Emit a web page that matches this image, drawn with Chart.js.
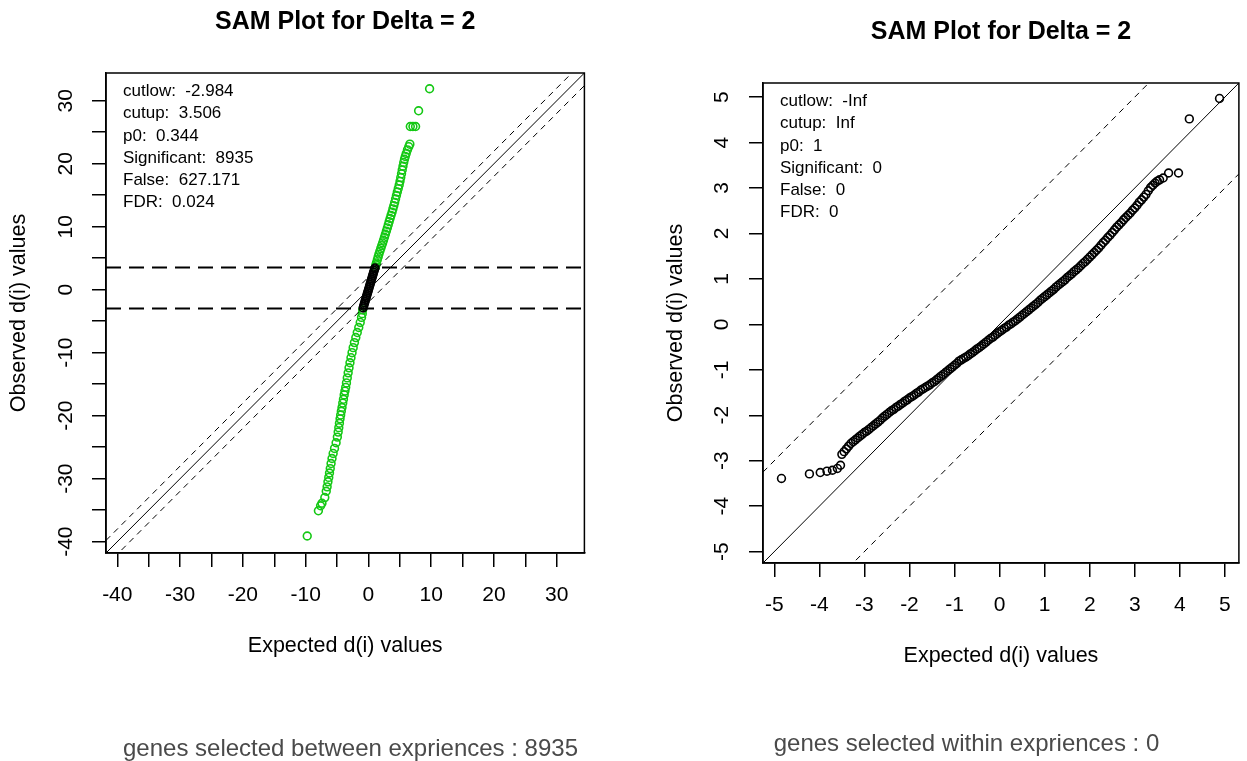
<!DOCTYPE html>
<html>
<head>
<meta charset="utf-8">
<script src="https://cdn.jsdelivr.net/npm/chart.js@4.4.1/dist/chart.umd.min.js"></script>
<style>
  html, body { margin: 0; padding: 0; background: #fff; width: 1247px; height: 761px; overflow: hidden; position: relative; }
  canvas { position: absolute; }
  #samBetween { left: 0; top: 0; }
  #samWithin { left: 657px; top: 10px; }
  .caption { position: absolute; font-family: "Liberation Sans", Arial, sans-serif; font-size: 24px; line-height: 24px; color: #4a4a4a; text-align: center; white-space: pre; }
</style>
</head>
<body>
<canvas id="samBetween" width="590" height="751"></canvas>
<canvas id="samWithin" width="590" height="751"></canvas>
<div class="caption" id="capBetween" style="left:50px; top:736px; width:601px;"></div>
<div class="caption" id="capWithin" style="left:700px; top:731px; width:533px;"></div>
<script>
// ---------- between experiences: expected vs observed d(i) ----------
// significant genes below cutlow (green)
const betweenLowExpected = [-9.75, -7.97, -7.62, -7.40, -6.95, -6.72, -6.58, -6.45, -6.32, -6.20, -6.08, -5.95, -5.80, -5.62, -5.40, -5.15, -4.95, -4.82, -4.72, -4.62, -4.52, -4.42, -4.32, -4.21, -4.09, -3.98, -3.86, -3.74, -3.62, -3.50, -3.37, -3.23, -3.09, -2.94, -2.78, -2.61, -2.43, -2.23, -2.01, -1.78, -1.54, -1.31, -1.10, -0.98, -0.92];
const betweenLowObserved = [-39.1, -35.1, -34.3, -33.9, -33.0, -32.0, -31.3, -30.5, -29.8, -29.1, -28.4, -27.6, -26.8, -26.0, -25.2, -24.3, -23.4, -22.6, -21.9, -21.2, -20.5, -19.9, -19.3, -18.7, -18.0, -17.4, -16.7, -16.1, -15.5, -14.8, -14.0, -13.2, -12.4, -11.6, -10.8, -10.0, -9.2, -8.4, -7.6, -6.8, -6.0, -5.2, -4.4, -3.8, -3.2];
// genes between the cuts (black)
const betweenMidExpected = [-0.85, -0.77, -0.69, -0.61, -0.53, -0.45, -0.37, -0.29, -0.21, -0.13, -0.05, 0.03, 0.11, 0.19, 0.27, 0.35, 0.43, 0.51, 0.59, 0.67, 0.75, 0.83, 0.91, 0.99, 1.05];
const betweenMidObserved = [-2.90, -2.63, -2.36, -2.09, -1.82, -1.55, -1.28, -1.01, -0.74, -0.47, -0.20, 0.07, 0.34, 0.61, 0.88, 1.15, 1.42, 1.69, 1.96, 2.23, 2.50, 2.77, 3.04, 3.30, 3.45];
// significant genes above cutup (green)
const betweenUpExpected = [1.12, 1.20, 1.28, 1.42, 1.55, 1.68, 1.82, 1.97, 2.12, 2.26, 2.40, 2.55, 2.70, 2.86, 3.01, 3.16, 3.30, 3.45, 3.60, 3.76, 3.90, 4.04, 4.18, 4.32, 4.46, 4.60, 4.75, 4.90, 5.03, 5.15, 5.27, 5.38, 5.50, 5.62, 5.74, 5.87, 6.02, 6.22, 6.42, 6.60, 6.67, 7.09, 7.51, 7.99, 9.74];
const betweenUpObserved = [3.62, 3.95, 4.25, 4.75, 5.20, 5.65, 6.10, 6.55, 7.00, 7.42, 7.85, 8.32, 8.80, 9.30, 9.80, 10.30, 10.80, 11.30, 11.80, 12.30, 12.82, 13.33, 13.85, 14.40, 14.95, 15.50, 16.05, 16.62, 17.20, 17.80, 18.40, 19.00, 19.60, 20.20, 20.70, 21.15, 21.62, 22.20, 22.70, 23.10, 25.90, 25.90, 25.90, 28.40, 31.90];
const betweenCuts = [-2.984, 3.506];
const betweenStats = ['cutlow:  -2.984', 'cutup:  3.506', 'p0:  0.344', 'Significant:  8935', 'False:  627.171', 'FDR:  0.024'];
const betweenTicks = [-40, -35, -30, -25, -20, -15, -10, -5, 0, 5, 10, 15, 20, 25, 30];
const betweenTickLabels = [-40, -30, -20, -10, 0, 10, 20, 30];
const betweenRange = [-41.8, 34.4];
const betweenCaption = 'genes selected between expriences : 8935';

// ---------- within experiences ----------
const withinExpected = [-4.84, -4.22, -3.98, -3.83, -3.71, -3.60, -3.53,
  -3.50, -3.45, -3.40, -3.35, -3.30, -3.25, -3.20, -3.15, -3.10, -3.05, -3.00, -2.95, -2.90, -2.85, -2.80, -2.75, -2.70, -2.65, -2.60, -2.55, -2.50, -2.45, -2.40, -2.35, -2.30, -2.25, -2.20, -2.15, -2.10, -2.05, -2.00, -1.95, -1.90, -1.85, -1.80, -1.75, -1.70, -1.65, -1.60, -1.55, -1.50, -1.45, -1.40, -1.35, -1.30, -1.25, -1.20, -1.15, -1.10, -1.05, -1.00, -0.95, -0.90, -0.85, -0.80, -0.75, -0.70, -0.65, -0.60, -0.55, -0.50, -0.45, -0.40, -0.35, -0.30, -0.25, -0.20, -0.15, -0.10, -0.05,
  0.00, 0.05, 0.10, 0.15, 0.20, 0.25, 0.30, 0.35, 0.40, 0.45, 0.50, 0.55, 0.60, 0.65, 0.70, 0.75, 0.80, 0.85, 0.90, 0.95, 1.00, 1.05, 1.10, 1.15, 1.20, 1.25, 1.30, 1.35, 1.40, 1.45, 1.50, 1.55, 1.60, 1.65, 1.70, 1.75, 1.80, 1.85, 1.90, 1.95, 2.00, 2.05, 2.10, 2.15, 2.20, 2.25, 2.30, 2.35, 2.40, 2.45, 2.50, 2.55, 2.60, 2.65, 2.70, 2.75, 2.80, 2.85, 2.90, 2.95, 3.00, 3.05, 3.10, 3.15, 3.20, 3.25, 3.30, 3.35, 3.40, 3.45, 3.50, 3.55,
  3.63, 3.75, 3.97, 4.21, 4.88];
const withinObserved = [-3.39, -3.29, -3.26, -3.23, -3.21, -3.17, -3.10,
  -2.86, -2.80, -2.74, -2.68, -2.62, -2.58, -2.54, -2.50, -2.46, -2.42, -2.38, -2.35, -2.31, -2.27, -2.23, -2.19, -2.15, -2.11, -2.06, -2.02, -1.98, -1.94, -1.90, -1.87, -1.83, -1.80, -1.76, -1.73, -1.69, -1.66, -1.62, -1.59, -1.56, -1.52, -1.49, -1.45, -1.42, -1.39, -1.36, -1.33, -1.29, -1.26, -1.22, -1.18, -1.14, -1.10, -1.06, -1.02, -0.98, -0.94, -0.90, -0.86, -0.81, -0.78, -0.75, -0.72, -0.69, -0.65, -0.62, -0.58, -0.54, -0.51, -0.47, -0.43, -0.39, -0.35, -0.31, -0.28, -0.24, -0.20,
  -0.16, -0.13, -0.09, -0.06, -0.02, 0.01, 0.05, 0.08, 0.12, 0.16, 0.20, 0.24, 0.28, 0.32, 0.36, 0.40, 0.44, 0.48, 0.53, 0.57, 0.61, 0.65, 0.69, 0.73, 0.77, 0.82, 0.86, 0.90, 0.94, 0.98, 1.03, 1.07, 1.11, 1.16, 1.20, 1.24, 1.29, 1.34, 1.38, 1.43, 1.48, 1.53, 1.58, 1.63, 1.68, 1.74, 1.80, 1.85, 1.91, 1.96, 2.02, 2.08, 2.14, 2.19, 2.24, 2.30, 2.35, 2.40, 2.45, 2.51, 2.56, 2.62, 2.69, 2.74, 2.80, 2.86, 2.94, 3.01, 3.06, 3.11, 3.15, 3.18,
  3.22, 3.33, 3.33, 4.52, 4.97];
const withinCuts = [-Infinity, Infinity];
const withinStats = ['cutlow:  -Inf', 'cutup:  Inf', 'p0:  1', 'Significant:  0', 'False:  0', 'FDR:  0'];
const withinTicks = [-5, -4, -3, -2, -1, 0, 1, 2, 3, 4, 5];
const withinTickLabels = [-5, -4, -3, -2, -1, 0, 1, 2, 3, 4, 5];
const withinRange = [-5.25, 5.31];
const withinCaption = 'genes selected within expriences : 0';

const delta = 2;
const plotTitle = 'SAM Plot for Delta = 2';
const xTitle = 'Expected d(i) values';
const yTitle = 'Observed d(i) values';

const FONT = '"Liberation Sans", Arial, Helvetica, sans-serif';
const GREEN = '#14c814';

const pairs = (xs, ys) => xs.map((x, i) => ({ x: x, y: ys[i] }));

// frame around the plotting region
const frameBox = {
  id: 'frameBox',
  afterDatasetsDraw(chart) {
    const a = chart.chartArea, ctx = chart.ctx;
    ctx.save();
    ctx.strokeStyle = '#000';
    ctx.lineWidth = 1.5;
    ctx.strokeRect(a.left, a.top, a.right - a.left, a.bottom - a.top);
    ctx.restore();
  }
};

// summary statistics in the upper-left corner
const statsText = {
  id: 'statsText',
  afterDraw(chart, args, opts) {
    const a = chart.chartArea, ctx = chart.ctx;
    ctx.save();
    ctx.fillStyle = '#000';
    ctx.font = '17px ' + FONT;
    ctx.textAlign = 'left';
    ctx.textBaseline = 'middle';
    (opts.lines || []).forEach((t, i) => ctx.fillText(t, a.left + 17, a.top + 18.5 + i * 22.2));
    ctx.restore();
  }
};

function lineSet(points, dash, width) {
  return { data: points, showLine: true, borderColor: '#000', borderWidth: width, borderDash: dash,
           pointRadius: 0, fill: false, backgroundColor: 'transparent' };
}

function pointSet(points, color) {
  return { data: points, showLine: false, pointStyle: 'circle', pointRadius: 3.9, pointBorderWidth: 1.6,
           pointBorderColor: color, pointBackgroundColor: 'rgba(0,0,0,0)', borderColor: color, backgroundColor: 'rgba(0,0,0,0)' };
}

function samChart(id, cfg) {
  const lo = cfg.range[0], hi = cfg.range[1];
  const lines = [
    lineSet([{ x: lo, y: lo }, { x: hi, y: hi }], [], 1),
    lineSet([{ x: lo, y: lo + delta }, { x: hi, y: hi + delta }], [6, 5], 1),
    lineSet([{ x: lo, y: lo - delta }, { x: hi, y: hi - delta }], [6, 5], 1)
  ];
  cfg.cuts.filter(Number.isFinite).forEach(c => lines.push(lineSet([{ x: lo, y: c }, { x: hi, y: c }], [15, 8], 2)));

  const tickFont = { family: FONT, size: 21 };
  const titleFont = { family: FONT, size: 21.5 };
  const axisCommon = (isX) => ({
    type: 'linear',
    min: lo, max: hi,
    afterBuildTicks: s => { s.ticks = cfg.ticks.map(v => ({ value: v })); },
    grid: { display: true, drawOnChartArea: false, drawTicks: true, tickLength: 14, color: '#000', lineWidth: 1.5 },
    border: { display: true, color: '#000', width: 1.5 },
    ticks: {
      autoSkip: false, includeBounds: false, color: '#000', font: tickFont,
      minRotation: isX ? 0 : 90, maxRotation: isX ? 0 : 90,
      crossAlign: isX ? 'near' : 'center',
      padding: isX ? 16 : cfg.yTickPad,
      callback: v => cfg.tickLabels.includes(v) ? String(v) : ''
    },
    title: { display: true, text: isX ? xTitle : yTitle, color: '#000', font: titleFont, padding: { top: 0, bottom: 0 } }
  });

  return new Chart(document.getElementById(id), {
    type: 'scatter',
    data: { datasets: lines.concat(cfg.points) },
    options: {
      responsive: false, animation: false, devicePixelRatio: 1, events: [],
      layout: { padding: { left: 6, right: 5, top: 0, bottom: 92 } },
      scales: {
        x: Object.assign(axisCommon(true), { position: 'bottom', afterFit: s => { s.height = 106; } }),
        y: Object.assign(axisCommon(false), { position: 'left', afterFit: s => { s.width = 100; } })
      },
      plugins: {
        legend: { display: false },
        tooltip: { enabled: false },
        title: { display: true, text: plotTitle, fullSize: false, color: '#000',
                 font: { family: FONT, size: 25, weight: 'bold' }, padding: { top: 7.5, bottom: 35.5 } },
        statsText: { lines: cfg.stats }
      }
    },
    plugins: [frameBox, statsText]
  });
}

samChart('samBetween', {
  range: betweenRange, ticks: betweenTicks, tickLabels: betweenTickLabels, cuts: betweenCuts,
  stats: betweenStats, yTickPad: 11,
  points: [
    pointSet(pairs(betweenMidExpected, betweenMidObserved), '#000'),
    pointSet(pairs(betweenUpExpected, betweenUpObserved), GREEN),
    pointSet(pairs(betweenLowExpected, betweenLowObserved), GREEN)
  ]
});

samChart('samWithin', {
  range: withinRange, ticks: withinTicks, tickLabels: withinTickLabels, cuts: withinCuts,
  stats: withinStats, yTickPad: 17,
  points: [pointSet(pairs(withinExpected, withinObserved), '#000')]
});

document.getElementById('capBetween').textContent = betweenCaption;
document.getElementById('capWithin').textContent = withinCaption;
</script>
</body>
</html>
